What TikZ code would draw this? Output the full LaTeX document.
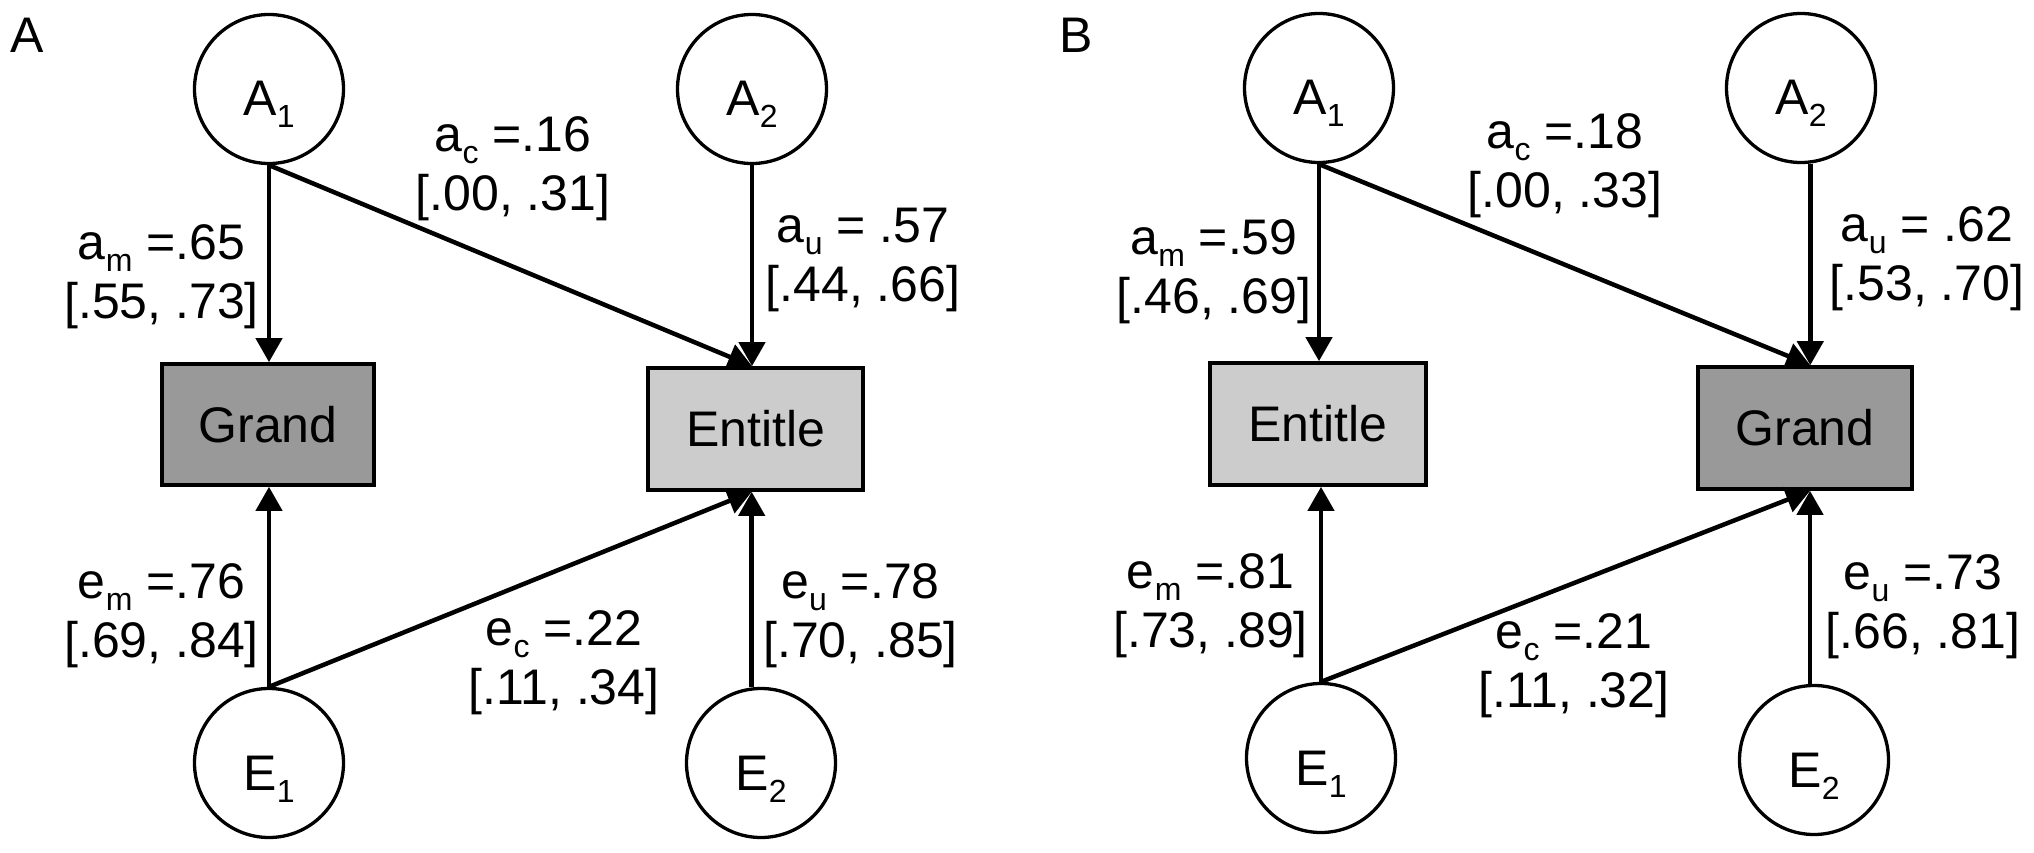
\documentclass[tikz,border=0pt]{standalone}
\usepackage{fontspec}
\setmainfont{Liberation Sans}
\usetikzlibrary{arrows.meta}
\definecolor{boxdark}{gray}{0.6}
\definecolor{boxlight}{gray}{0.8}
\newcommand\lsub[1]{\raisebox{-12pt}{\fontsize{32}{32}\selectfont #1}}
\newcommand\lat[2]{\raisebox{-27pt}[0pt][0pt]{#1\lsub{#2}}}
\begin{document}
\begin{tikzpicture}[x=1pt,y=-1pt,
  every node/.style={font=\fontsize{50}{59}\selectfont, inner sep=0pt},
  latent/.style={circle, draw, line width=3.3pt, minimum size=149pt, fill=white},
  obsbox/.style={rectangle, draw, line width=3.7pt, minimum width=213pt, minimum height=121pt},
  arr/.style={line width=4.5pt, -{Triangle[width=26pt,length=24pt]}},
  lbl/.style={align=center}]
\fill[white] (0,0) rectangle (2034,853);
\useasboundingbox (0,0) rectangle (2034,853);

% ---------------- Panel A ----------------
\node[anchor=base west] (pA) at (10,53) {A};
\node[latent] (A1a) at (269,89) {\lat{A}{1}};
\node[latent] (A2a) at (752,89) {\lat{A}{2}};
\node[latent] (E1a) at (269,763) {\lat{E}{1}};
\node[latent] (E2a) at (761,763) {\lat{E}{2}};
\node[obsbox, fill=boxdark, minimum width=212pt] (Ga) at (268,424.5) {Grand};
\node[obsbox, fill=boxlight, minimum width=215pt, minimum height=122pt] (Ta) at (755.5,429) {Entitle};

\draw[arr] (A1a.south) -- (A1a.south |- Ga.north);
\draw[arr] (A1a.south) -- (A2a.south |- Ta.north);
\draw[arr] (A2a.south) -- (A2a.south |- Ta.north);
\draw[arr] (E1a.north) -- (E1a.north |- Ga.south);
\draw[arr] (E1a.north) -- (E2a.97 |- Ta.south);
\draw[arr] (E2a.97) -- (E2a.97 |- Ta.south);

\node[lbl] (lamA) at (161.5,276.5) {a\lsub{m} =.65\\{[}.55, .73]};
\node[lbl] (lacA) at (513,168.5) {a\lsub{c} =.16\\{[}.00, .31]};
\node[lbl] (lauA) at (863,259.5) {a\lsub{u} = .57\\{[}.44, .66]};
\node[lbl] (lemA) at (161.5,615.5) {e\lsub{m} =.76\\{[}.69, .84]};
\node[lbl] (lecA) at (564,662.5) {e\lsub{c} =.22\\{[}.11, .34]};
\node[lbl] (leuA) at (860.5,615.5) {e\lsub{u} =.78\\{[}.70, .85]};

% ---------------- Panel B ----------------
\node[anchor=base west] (pB) at (1059,53) {B};
\node[latent] (A1b) at (1319,88) {\lat{A}{1}};
\node[latent] (A2b) at (1801,88) {\lat{A}{2}};
\node[latent] (E1b) at (1321,758) {\lat{E}{1}};
\node[latent] (E2b) at (1814,760) {\lat{E}{2}};
\node[obsbox, fill=boxlight, minimum width=216pt, minimum height=122pt] (Tb) at (1318,424) {Entitle};
\node[obsbox, fill=boxdark, minimum width=214pt, minimum height=122pt] (Gb) at (1805,428) {Grand};

\draw[arr] (A1b.south) -- (A1b.south |- Tb.north);
\draw[arr] (A1b.south) -- (A2b.277 |- Gb.north);
\draw[arr] (A2b.277) -- (A2b.277 |- Gb.north);
\draw[arr] (E1b.north) -- (E1b.north |- Tb.south);
\draw[arr] (E1b.north) -- (E2b.93 |- Gb.south);
\draw[arr] (E2b.93) -- (E2b.93 |- Gb.south);

\node[lbl] (lamB) at (1214,271.5) {a\lsub{m} =.59\\{[}.46, .69]};
\node[lbl] (lacB) at (1565,166) {a\lsub{c} =.18\\{[}.00, .33]};
\node[lbl] (lauB) at (1927,258.5) {a\lsub{u} = .62\\{[}.53, .70]};
\node[lbl] (lemB) at (1210.5,605.5) {e\lsub{m} =.81\\{[}.73, .89]};
\node[lbl] (lecB) at (1574,665.5) {e\lsub{c} =.21\\{[}.11, .32]};
\node[lbl] (leuB) at (1923,606.5) {e\lsub{u} =.73\\{[}.66, .81]};
\end{tikzpicture}
\end{document}
